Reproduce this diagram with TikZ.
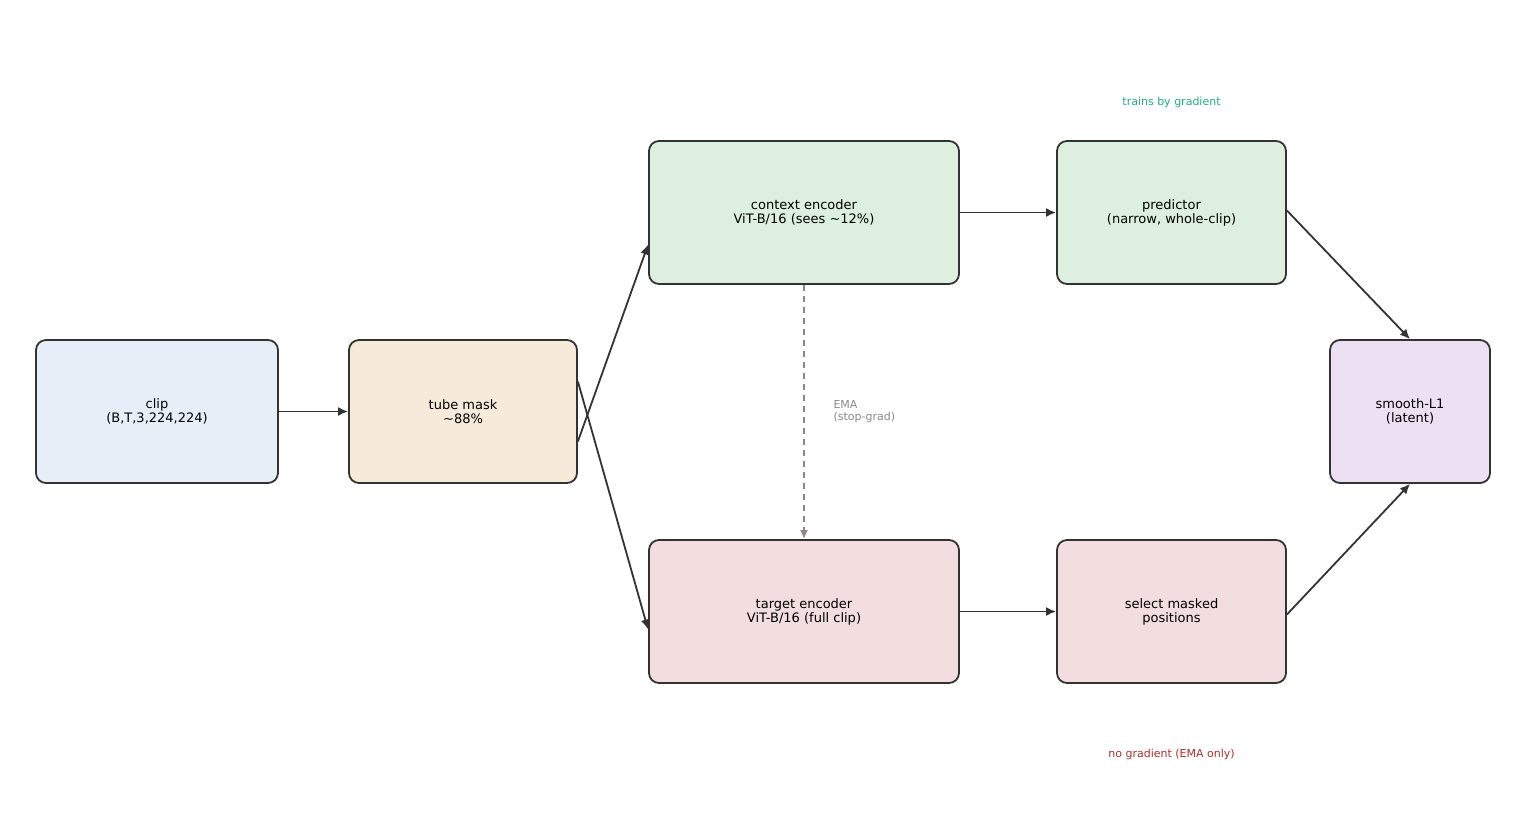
\documentclass[tikz,border=0pt]{standalone}
\usepackage{fontspec}
\setmainfont{DejaVu Sans}
\usetikzlibrary{arrows.meta}
\definecolor{edge}{HTML}{333333}
\definecolor{cblue}{HTML}{E6EEF8}
\definecolor{cbeige}{HTML}{F6EBDA}
\definecolor{cgreen}{HTML}{DDEFDF}
\definecolor{cpink}{HTML}{F2DEDE}
\definecolor{cpurple}{HTML}{EDE0F2}
\definecolor{tgreen}{HTML}{1DB07A}
\definecolor{tred}{HTML}{B22C2C}
\definecolor{tgray}{HTML}{888888}
\begin{document}
\begin{tikzpicture}[x=1pt,y=-1pt,
 box/.style={draw=edge,line width=1.8pt,rounded corners=10pt,align=center,font=\fontsize{13}{14}\selectfont,minimum height=143pt,inner sep=0pt},
 arr/.style={draw=edge,line width=1.8pt,-{Latex[length=10pt,width=9pt]}},
 lab/.style={font=\fontsize{11}{12}\selectfont}]
\useasboundingbox (0,0) rectangle (1525,825);
\node[box,fill=cblue,minimum width=242pt] (clip) at (157,411.5) {clip\\(B,T,3,224,224)};
\node[box,fill=cbeige,minimum width=228pt] (tm) at (463,411.5) {tube mask\\\textasciitilde88\%};
\node[box,fill=cgreen,minimum width=310pt] (ce) at (804,212.5) {context encoder\\ViT-B/16 (sees \textasciitilde12\%)};
\node[box,fill=cgreen,minimum width=229pt] (pr) at (1171.5,212.5) {predictor\\(narrow, whole-clip)};
\node[box,fill=cpurple,minimum width=160pt] (sl) at (1410,411.5) {smooth-L1\\(latent)};
\node[box,fill=cpink,minimum width=310pt] (te) at (804,611.5) {target encoder\\ViT-B/16 (full clip)};
\node[box,fill=cpink,minimum width=229pt] (se) at (1171.5,611.5) {select masked\\positions};
\node[lab,text=tgreen] (tg) at (1171.5,102) {trains by gradient};
\node[lab,text=tred] (ng) at (1171.5,754) {no gradient (EMA only)};
\node[lab,text=tgray,align=left,anchor=west] (ema) at (830,412) {EMA\\(stop-grad)};
\draw[arr] (clip.east) -- (tm.west);
\draw[arr] ([yshift=-30pt]tm.east) -- ([yshift=-32pt]ce.west);
\draw[arr] ([yshift=30pt]tm.east) -- ([yshift=-18pt]te.west);
\draw[arr] (ce.east) -- (pr.west);
\draw[arr] (te.east) -- (se.west);
\draw[arr] ([yshift=2pt]pr.east) -- (sl.north);
\draw[arr] ([yshift=-3pt]se.east) -- (sl.south);
\draw[draw=tgray,line width=1.8pt,dash pattern=on 6pt off 5pt,-{Latex[length=9pt,width=8pt]}] (ce.south) -- (te.north);
\end{tikzpicture}
\end{document}
